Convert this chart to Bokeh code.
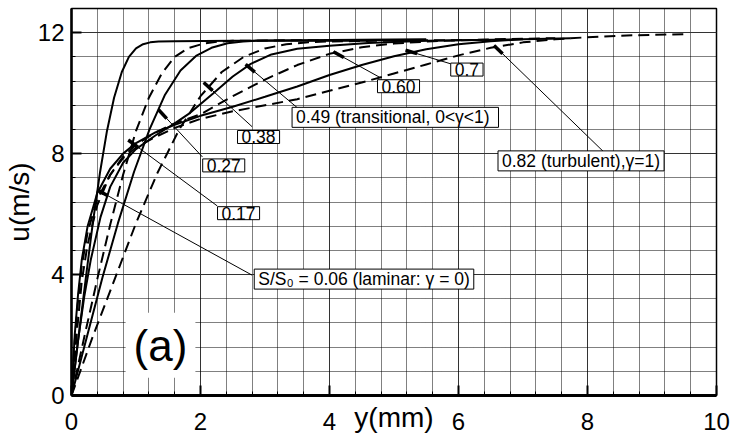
import math
from bokeh.plotting import figure
from bokeh.models import Range1d, SingleIntervalTicker, Label
from bokeh.embed import file_html
from bokeh.resources import INLINE

FONT = "Liberation Sans"

# ---------------- data (y in mm, u in m/s) ----------------
y006 = [0, 0.11, 0.22, 0.33, 0.44, 0.55, 0.66, 0.78, 0.89, 1.0, 1.11, 1.22, 1.35, 1.6, 2.5, 4.57]
u006 = [0, 1.95, 3.85, 5.7, 7.35, 8.75, 9.85, 10.7, 11.2, 11.48, 11.62, 11.68, 11.71, 11.72, 11.73, 11.73]

y017 = [0, 0.2, 0.4, 0.6, 0.8, 1.0, 1.2, 1.4, 1.6, 1.8, 2.05, 2.25, 2.5, 3.5, 5.5]
u017 = [0, 1.95, 3.85, 5.65, 7.3, 8.75, 9.85, 10.65, 11.2, 11.48, 11.64, 11.7, 11.73, 11.75, 11.76]

y027 = [0, 0.24, 0.48, 0.72, 0.97, 1.21, 1.45, 1.69, 1.93, 2.17, 2.42, 2.66, 2.9, 4.0, 5.5]
u027 = [0, 1.95, 3.9, 5.7, 7.4, 8.8, 9.95, 10.75, 11.23, 11.5, 11.65, 11.71, 11.74, 11.76, 11.78]

y038 = [0, 0.33, 0.67, 1.0, 1.33, 1.67, 2.0, 2.33, 2.67, 3.0, 3.33, 3.67, 4.0, 5.0, 6.5]
u038 = [0, 1.95, 3.85, 5.7, 7.35, 8.8, 9.9, 10.7, 11.2, 11.48, 11.62, 11.68, 11.71, 11.74, 11.76]

y049 = [0, 0.1, 0.2, 0.3, 0.45, 0.6, 0.8, 1.0, 1.3, 1.6, 1.84, 2.2, 2.5, 2.78, 3.1, 3.5, 4.0, 4.6, 5.5, 7.0]
u049 = [0, 1.8, 3.3, 4.5, 5.9, 6.9, 7.7, 8.15, 8.6, 9.0, 9.35, 10.0, 10.55, 10.97, 11.28, 11.47, 11.57, 11.66, 11.73, 11.78]

y060 = [0, 0.08, 0.16, 0.25, 0.4, 0.6, 0.8, 1.0, 1.3, 1.6, 2.0, 2.5, 3.0, 3.5, 4.0, 4.5, 5.0, 5.6, 6.5, 7.5]
u060 = [0, 2.0, 3.8, 5.0, 6.3, 7.3, 7.9, 8.3, 8.7, 9.0, 9.3, 9.9, 10.45, 10.93, 11.3, 11.52, 11.64, 11.72, 11.78, 11.82]

y070 = [0, 0.05, 0.1, 0.16, 0.25, 0.4, 0.6, 0.8, 1.0, 1.3, 1.6, 2.0, 2.5, 3.0, 3.5, 4.0, 4.5, 5.0, 5.5, 6.0, 6.5, 7.0, 7.74]
u070 = [0, 2.0, 3.3, 4.5, 5.6, 6.7, 7.5, 8.0, 8.35, 8.7, 8.95, 9.25, 9.55, 9.88, 10.22, 10.6, 10.93, 11.22, 11.45, 11.62, 11.72, 11.78, 11.82]

y082 = [0, 0.05, 0.1, 0.16, 0.25, 0.4, 0.6, 0.8, 1.0, 1.3, 1.6, 2.0, 2.5, 3.0, 3.5, 4.0, 4.5, 5.0, 5.5, 6.0, 6.5, 7.0, 7.5, 8.0, 8.5, 9.0, 9.55]
u082 = [0, 1.8, 3.1, 4.3, 5.4, 6.5, 7.3, 7.85, 8.2, 8.55, 8.85, 9.15, 9.4, 9.6, 9.8, 10.08, 10.35, 10.65, 10.95, 11.25, 11.5, 11.68, 11.78, 11.85, 11.9, 11.93, 11.95]

series_names = ["0.06", "0.17", "0.27", "0.38", "0.49", "0.60", "0.7", "0.82"]
series_y = [y006, y017, y027, y038, y049, y060, y070, y082]
series_u = [u006, u017, u027, u038, u049, u060, u070, u082]

label_texts = ["S/S\u2080 = 0.06 (laminar: \u03b3 = 0)", "0.17", "0.27", "0.38",
               "0.49 (transitional,  0<\u03b3<1)", "0.60", "0.7", "0.82 (turbulent),\u03b3=1)"]

x_title = "y(mm)"
y_title = "u(m/s)"
x_ticks_interval = 2
y_ticks_interval = 4

# ---------------- styling / layout (not data) ----------------
dashes = ["solid", "11 6", "solid", "11 6", "solid", "11 6", "solid", "11 6"]
box_centers = [(4.535, 3.85), (2.59, 6.03), (2.36, 7.61), (2.90, 8.55),
               (5.02, 9.2), (5.07, 10.23), (6.13, 10.78), (7.9, 7.76)]
leader_starts = [(2.80, 3.98), (2.26, 6.27), (2.03, 7.89), (2.80, 8.89),
                 (3.50, 9.52), (4.79, 10.51), (5.88, 10.97), (8.25, 8.06)]
leader_tips = [(0.40, 6.8), (0.88, 8.45), (1.35, 9.45), (2.05, 10.35),
               (2.70, 10.95), (4.06, 11.37), (5.18, 11.42), (6.55, 11.58)]

X0, X1, Y0, Y1 = 0, 10, 0, 12.8
FW, FH = 645, 387
XS, YS = FW / (X1 - X0), FH / (Y1 - Y0)

p = figure(width=732, height=439, output_backend="svg", toolbar_location=None, tools="",
           x_range=Range1d(X0, X1), y_range=Range1d(Y0, Y1),
           min_border_left=71, min_border_right=16, min_border_top=8, min_border_bottom=44)
p.background_fill_color = "white"
p.border_fill_color = "white"
p.outline_line_color = "black"
p.outline_line_width = 1.5

xt = SingleIntervalTicker(interval=x_ticks_interval, num_minor_ticks=5)
yt = SingleIntervalTicker(interval=y_ticks_interval, num_minor_ticks=5)
p.xaxis.ticker = xt
p.yaxis.ticker = yt
p.xgrid.ticker = xt
p.ygrid.ticker = yt

for g in (p.xgrid, p.ygrid):
    g.grid_line_color = "#333333"
    g.grid_line_width = 1
    g.minor_grid_line_color = "black"
    g.minor_grid_line_dash = "1 1"
    g.minor_grid_line_width = 1

for ax in (p.xaxis, p.yaxis):
    ax.major_tick_in = 10
    ax.major_tick_out = 0
    ax.major_tick_line_width = 2
    ax.minor_tick_in = 4
    ax.minor_tick_out = 0
    ax.major_label_text_font = FONT
    ax.major_label_text_font_size = "24px"
    ax.major_label_text_color = "black"
    ax.axis_label_text_font = FONT
    ax.axis_label_text_font_size = "28px"
    ax.axis_label_text_font_style = "normal"
    ax.axis_label_text_color = "black"
p.xaxis.axis_line_width = 3
p.yaxis.axis_line_width = 2.5
p.xaxis.major_label_standoff = 17
p.yaxis.major_label_standoff = 7
p.xaxis.axis_label = x_title
p.yaxis.axis_label = y_title
p.xaxis.axis_label_standoff = -31
p.yaxis.axis_label_standoff = 0

for ys, us, d in zip(series_y, series_u, dashes):
    p.line(ys, us, line_color="black", line_width=2, line_dash=d)

# leader lines with thick tips
x0s, y0s, x1s, y1s = [], [], [], []
tx0, ty0, tx1, ty1 = [], [], [], []
for (sx, sy), (tx, ty) in zip(leader_starts, leader_tips):
    x0s.append(sx); y0s.append(sy); x1s.append(tx); y1s.append(ty)
    dxp, dyp = (sx - tx) * XS, (sy - ty) * YS
    L = math.hypot(dxp, dyp)
    k = 12.0 / L
    tx0.append(tx); ty0.append(ty)
    tx1.append(tx + dxp * k / XS); ty1.append(ty + dyp * k / YS)
p.segment(x0s, y0s, x1s, y1s, line_color="black", line_width=1)
p.segment(tx0, ty0, tx1, ty1, line_color="black", line_width=3.5)

for txt, (cx, cy) in zip(label_texts, box_centers):
    p.add_layout(Label(x=cx, y=cy, text=txt, text_align="center", text_baseline="middle",
                       text_font=FONT, text_font_size="17.5px", text_color="black",
                       background_fill_color="white", border_line_color="black",
                       border_line_width=1, padding=dict(left=4, right=4, top=0, bottom=0)))

p.add_layout(Label(x=1.38, y=1.66, text="(a)", text_align="center", text_baseline="middle",
                   text_font=FONT, text_font_size="44px", text_color="black",
                   background_fill_color="white", padding=8))

open("out.html", "w").write(file_html(p, INLINE))
